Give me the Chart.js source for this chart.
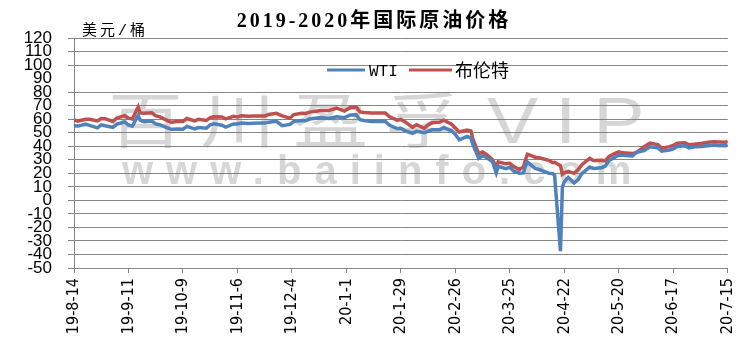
<!DOCTYPE html>
<html>
<head>
<meta charset="utf-8">
<script src="https://cdn.jsdelivr.net/npm/chart.js@4/dist/chart.umd.min.js"></script>
<style>
    body { margin: 0; background: #fff; }
</style>
</head>
<body>
<canvas id="myChart" width="752" height="361"></canvas>
<script>
const dates = [
    '2019-08-14', '2019-08-16', '2019-08-20', '2019-08-22', '2019-08-26', '2019-08-28', '2019-08-30',
    '2019-09-03', '2019-09-05', '2019-09-09', '2019-09-11', '2019-09-13', '2019-09-16', '2019-09-17', '2019-09-19', '2019-09-23', '2019-09-25', '2019-09-27',
    '2019-10-01', '2019-10-03', '2019-10-07', '2019-10-09', '2019-10-11', '2019-10-15', '2019-10-17', '2019-10-21', '2019-10-23', '2019-10-25', '2019-10-29', '2019-10-31',
    '2019-11-04', '2019-11-06', '2019-11-08', '2019-11-12', '2019-11-14', '2019-11-18', '2019-11-20', '2019-11-22', '2019-11-26', '2019-11-29',
    '2019-12-03', '2019-12-05', '2019-12-09', '2019-12-11', '2019-12-13', '2019-12-17', '2019-12-19', '2019-12-23', '2019-12-27', '2019-12-31',
    '2020-01-03', '2020-01-06', '2020-01-08', '2020-01-10', '2020-01-14', '2020-01-16', '2020-01-21', '2020-01-23', '2020-01-27', '2020-01-29', '2020-01-31',
    '2020-02-04', '2020-02-06', '2020-02-10', '2020-02-12', '2020-02-14', '2020-02-18', '2020-02-20', '2020-02-24', '2020-02-26', '2020-02-28',
    '2020-03-03', '2020-03-05', '2020-03-06', '2020-03-09', '2020-03-11', '2020-03-13', '2020-03-16', '2020-03-18', '2020-03-19', '2020-03-23', '2020-03-25', '2020-03-27', '2020-03-30',
    '2020-04-01', '2020-04-02', '2020-04-03', '2020-04-07', '2020-04-09', '2020-04-14', '2020-04-16', '2020-04-17', '2020-04-20', '2020-04-21', '2020-04-22', '2020-04-24', '2020-04-27', '2020-04-29',
    '2020-05-01', '2020-05-05', '2020-05-07', '2020-05-11', '2020-05-13', '2020-05-15', '2020-05-18', '2020-05-20', '2020-05-22', '2020-05-27', '2020-05-29',
    '2020-06-02', '2020-06-05', '2020-06-09', '2020-06-11', '2020-06-15', '2020-06-17', '2020-06-19', '2020-06-23', '2020-06-25', '2020-06-29',
    '2020-07-01', '2020-07-06', '2020-07-08', '2020-07-10', '2020-07-14', '2020-07-15'
];

const wti = [
    55.2, 54.9, 56.3, 55.4, 53.6, 55.8, 55.1,
    53.9, 56.3, 57.9, 55.8, 54.9, 62.9, 59.3, 58.1, 58.6, 56.5, 55.9,
    53.6, 52.5, 52.8, 52.6, 54.7, 52.8, 53.9, 53.3, 55.9, 56.6, 55.5, 54.2,
    56.5, 56.4, 57.2, 56.8, 57.0, 57.1, 57.1, 57.8, 58.4, 55.2,
    56.1, 58.4, 59.0, 58.8, 60.1, 60.9, 61.2, 60.5, 61.7, 61.1,
    63.1, 63.3, 59.6, 59.0, 58.2, 58.5, 58.3, 55.6, 53.1, 53.3, 51.6,
    49.6, 51.0, 50.0, 51.2, 52.1, 52.1, 53.8, 51.4, 48.7, 44.8,
    47.2, 46.0, 41.3, 31.1, 33.0, 31.7, 28.7, 20.4, 25.2, 23.4, 24.5, 21.5, 20.1,
    20.3, 25.3, 28.3, 23.6, 22.8, 20.1, 19.9, 18.3, -37.6, 10.0, 13.8, 16.9, 12.8, 15.1,
    19.8, 24.6, 23.6, 24.1, 25.3, 29.4, 31.8, 33.5, 33.3, 32.8, 35.5,
    36.8, 39.6, 38.9, 36.3, 37.1, 38.0, 39.8, 40.4, 38.7, 39.7,
    39.8, 40.6, 40.9, 40.6, 40.3, 41.2
];

const brent = [
    59.5, 58.6, 60.0, 59.9, 58.7, 60.5, 60.4,
    58.3, 60.9, 62.6, 60.8, 60.2, 69.0, 64.6, 64.4, 64.8, 62.4, 61.9,
    58.9, 57.7, 58.4, 58.3, 60.5, 58.7, 59.9, 59.0, 61.2, 61.7, 61.6, 60.2,
    62.1, 61.7, 62.5, 62.1, 62.3, 62.4, 62.4, 63.4, 64.3, 62.4,
    60.8, 63.4, 64.3, 64.2, 65.2, 66.1, 66.5, 66.4, 68.2, 66.0,
    68.6, 68.9, 65.4, 65.0, 64.5, 64.6, 64.6, 62.0, 59.3, 59.8, 58.2,
    54.0, 55.9, 53.3, 55.8, 57.3, 57.8, 59.3, 56.3, 53.4, 50.5,
    51.9, 51.3, 45.3, 34.4, 35.8, 33.9, 30.1, 24.9, 28.5, 27.0, 27.4, 24.9, 22.8,
    24.7, 29.9, 34.1, 31.9, 31.5, 29.6, 27.8, 28.1, 25.6, 19.3, 20.4, 21.4, 20.0, 22.5,
    26.4, 31.0, 29.5, 29.6, 29.2, 32.5, 34.8, 35.8, 35.1, 34.7, 35.3,
    39.6, 42.3, 41.2, 38.6, 39.7, 40.7, 42.2, 42.6, 41.1, 41.7,
    42.0, 43.1, 43.3, 43.2, 42.9, 43.8
];

// etiquetas del eje x, una cada 28 dias
const tickLabels = ['19-8-14', '19-9-11', '19-10-9', '19-11-6', '19-12-4', '20-1-1', '20-1-29',
    '20-2-26', '20-3-25', '20-4-22', '20-5-20', '20-6-17', '20-7-15'];
const tickStep = 28;

const seriesNames = ['WTI', '布伦特'];
const seriesColors = ['#4f81bd', '#c0504d'];

function dayOffset(d) {
    return Math.round((new Date(d) - new Date(dates[0])) / 86400000);
}

function toPoints(values) {
    return values.map((v, i) => ({ x: dayOffset(dates[i]), y: v }));
}

const gridColor = '#868686';

const decor = {
    id: 'decor',
    beforeDatasetsDraw(chart) {
        // marca de agua
        const ctx = chart.ctx;
        ctx.save();
        ctx.fillStyle = 'rgba(120,120,120,0.3)';
        ctx.textBaseline = 'alphabetic';
        ctx.save();
        ctx.translate(108, 143);
        ctx.scale(1.25, 1);
        ctx.font = '60px "Noto Sans CJK SC"';
        ctx.letterSpacing = '14px';
        ctx.fillText('百川盈孚', 0, 0);
        ctx.restore();
        ctx.save();
        ctx.translate(487, 143);
        ctx.scale(1.2, 1);
        ctx.font = '64px "Liberation Sans"';
        ctx.letterSpacing = '14px';
        ctx.fillText('VIP', 0, 0);
        ctx.restore();
        ctx.font = 'bold 40px "Liberation Sans"';
        ctx.letterSpacing = '13px';
        ctx.fillText('www.baiinfo.com', 122, 184);
        ctx.restore();
    },
    afterDraw(chart) {
        const ctx = chart.ctx;
        ctx.save();
        ctx.fillStyle = '#000';
        ctx.textBaseline = 'alphabetic';

        ctx.font = 'bold 20px "Liberation Serif", "Noto Sans CJK SC"';
        ctx.letterSpacing = '3px';
        ctx.textAlign = 'center';
        ctx.fillText('2019-2020年国际原油价格', 374, 27);

        ctx.textAlign = 'left';
        ctx.font = '15px "Liberation Mono", "Noto Sans CJK SC"';
        ctx.letterSpacing = '3px';
        ctx.fillText('美元/桶', 82, 35);

        // leyenda
        ctx.letterSpacing = '0px';
        ctx.lineWidth = 3;
        ctx.strokeStyle = seriesColors[0];
        ctx.beginPath(); ctx.moveTo(327, 70); ctx.lineTo(365, 70); ctx.stroke();
        ctx.font = '16px "Liberation Mono"';
        ctx.fillText(seriesNames[0], 369, 76);
        ctx.strokeStyle = seriesColors[1];
        ctx.beginPath(); ctx.moveTo(409, 70); ctx.lineTo(452, 70); ctx.stroke();
        ctx.font = '18px "Noto Sans CJK SC"';
        ctx.fillText(seriesNames[1], 455, 77);
        ctx.restore();
    }
};

const config = {
    type: 'line',
    data: {
        datasets: [{
            label: seriesNames[0],
            data: toPoints(wti),
            borderColor: seriesColors[0],
            borderWidth: 3.5,
            pointRadius: 0,
            tension: 0
        }, {
            label: seriesNames[1],
            data: toPoints(brent),
            borderColor: seriesColors[1],
            borderWidth: 3.5,
            pointRadius: 0,
            tension: 0
        }]
    },
    options: {
        responsive: false,
        animation: false,
        layout: { padding: { top: 38, right: 22, left: 0, bottom: 0 } },
        plugins: {
            legend: { display: false },
            tooltip: { enabled: false }
        },
        scales: {
            x: {
                type: 'linear',
                min: 0,
                max: tickStep * (tickLabels.length - 1),
                afterFit: scale => { scale.height = 93; },
                afterBuildTicks: axis => {
                    axis.ticks = tickLabels.map((t, i) => ({ value: i * tickStep }));
                },
                grid: {
                    drawOnChartArea: false,
                    tickLength: 5,
                    color: gridColor
                },
                border: { color: gridColor },
                ticks: {
                    autoSkip: false,
                    minRotation: 90,
                    maxRotation: 90,
                    padding: 5,
                    color: '#000',
                    font: { family: '"DejaVu Sans Condensed", "DejaVu Sans"', size: 16 },
                    callback: (v) => tickLabels[Math.round(v / tickStep)]
                }
            },
            y: {
                min: -50,
                max: 120,
                afterFit: scale => { scale.width = 74; },
                grid: {
                    tickLength: 6,
                    color: ctx => ctx.tick && ctx.tick.value === 90 ? 'rgba(0,0,0,0)' : gridColor
                },
                border: { color: gridColor },
                ticks: {
                    autoSkip: false,
                    stepSize: 10,
                    padding: 16,
                    color: '#000',
                    font: { family: '"Liberation Sans"', size: 17, lineHeight: 1 }
                }
            }
        }
    },
    plugins: [decor]
};

myChart = new Chart(document.getElementById('myChart'), config);
</script>
</body>
</html>
